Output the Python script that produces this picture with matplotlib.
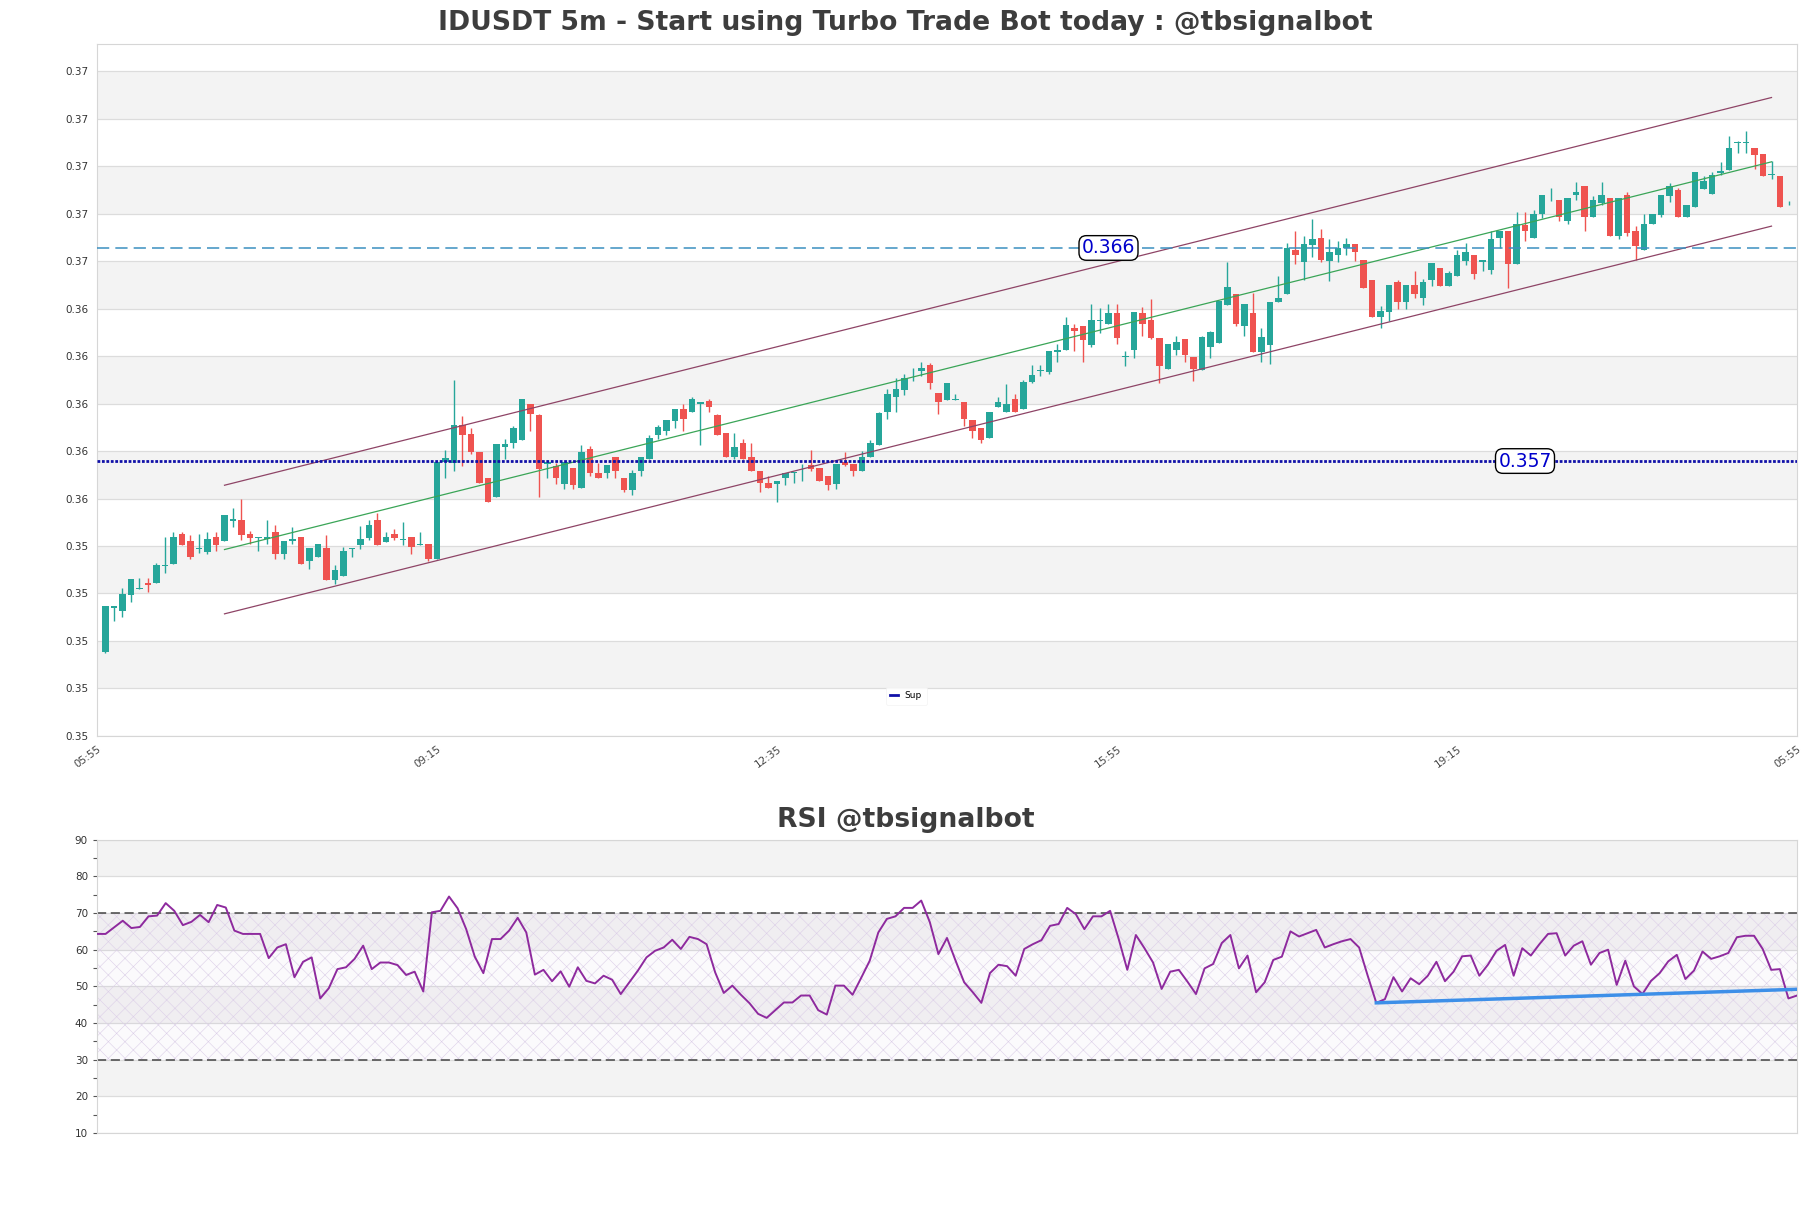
import numpy as np
import matplotlib
matplotlib.use("Agg")
import matplotlib.pyplot as plt
from matplotlib.lines import Line2D

# candle data (5m), one entry per candle
opens = [
    0.34904, 0.35087, 0.35077, 0.35143, 0.35167, 0.35196, 0.35195, 0.35265, 0.35275, 0.35400,
    0.35369, 0.35337, 0.35325, 0.35386, 0.35369, 0.35455, 0.35458, 0.35401, 0.35383, 0.35378,
    0.35407, 0.35318, 0.35369, 0.35386, 0.35287, 0.35305, 0.35340, 0.35207, 0.35224, 0.35339,
    0.35355, 0.35383, 0.35458, 0.35367, 0.35399, 0.35376, 0.35386, 0.35355, 0.35357, 0.35294,
    0.35706, 0.35701, 0.35860, 0.35821, 0.35748, 0.35638, 0.35557, 0.35767, 0.35783, 0.35797,
    0.35950, 0.35902, 0.35697, 0.35687, 0.35613, 0.35677, 0.35596, 0.35757, 0.35659, 0.35659,
    0.35726, 0.35638, 0.35586, 0.35664, 0.35715, 0.35818, 0.35835, 0.35877, 0.35929, 0.35915,
    0.35950, 0.35961, 0.35901, 0.35828, 0.35726, 0.35786, 0.35726, 0.35666, 0.35617, 0.35610,
    0.35635, 0.35659, 0.35664, 0.35690, 0.35677, 0.35645, 0.35610, 0.35706, 0.35697, 0.35666,
    0.35725, 0.35776, 0.35915, 0.35978, 0.36007, 0.36056, 0.36087, 0.36111, 0.35996, 0.35965,
    0.35965, 0.35958, 0.35880, 0.35849, 0.35804, 0.35936, 0.35915, 0.35968, 0.35926, 0.36042,
    0.36087, 0.36085, 0.36169, 0.36176, 0.36270, 0.36277, 0.36197, 0.36298, 0.36287, 0.36330,
    0.36148, 0.36176, 0.36330, 0.36301, 0.36228, 0.36094, 0.36176, 0.36221, 0.36148, 0.36090,
    0.36188, 0.36207, 0.36365, 0.36410, 0.36277, 0.36330, 0.36167, 0.36197, 0.36378, 0.36410,
    0.36599, 0.36548, 0.36618, 0.36649, 0.36553, 0.36575, 0.36607, 0.36621, 0.36557, 0.36469,
    0.36317, 0.36337, 0.36462, 0.36378, 0.36448, 0.36396, 0.36473, 0.36520, 0.36445, 0.36487,
    0.36553, 0.36578, 0.36548, 0.36515, 0.36646, 0.36679, 0.36539, 0.36701, 0.36649, 0.36750,
    0.36828, 0.36810, 0.36719, 0.36830, 0.36869, 0.36735, 0.36796, 0.36817, 0.36655, 0.36831,
    0.36679, 0.36597, 0.36705, 0.36747, 0.36827, 0.36849, 0.36735, 0.36778, 0.36856, 0.36835,
    0.36922, 0.36936, 0.37049, 0.37049, 0.37028, 0.37000, 0.36912, 0.36911, 0.36786,
]
highs = [
    0.35095, 0.35095, 0.35175, 0.35210, 0.35217, 0.35216, 0.35278, 0.35386, 0.35407, 0.35407,
    0.35397, 0.35400, 0.35407, 0.35407, 0.35479, 0.35508, 0.35547, 0.35414, 0.35386, 0.35458,
    0.35437, 0.35371, 0.35428, 0.35386, 0.35340, 0.35357, 0.35397, 0.35269, 0.35346, 0.35343,
    0.35435, 0.35458, 0.35487, 0.35407, 0.35421, 0.35449, 0.35386, 0.35407, 0.35357, 0.35706,
    0.35753, 0.36048, 0.35898, 0.35849, 0.35748, 0.35638, 0.35778, 0.35800, 0.35856, 0.35968,
    0.35950, 0.35908, 0.35711, 0.35701, 0.35706, 0.35677, 0.35776, 0.35771, 0.35698, 0.35690,
    0.35726, 0.35638, 0.35669, 0.35726, 0.35818, 0.35860, 0.35880, 0.35929, 0.35950, 0.35979,
    0.35958, 0.35968, 0.35908, 0.35828, 0.35828, 0.35800, 0.35786, 0.35666, 0.35645, 0.35624,
    0.35659, 0.35662, 0.35697, 0.35756, 0.35677, 0.35645, 0.35697, 0.35748, 0.35697, 0.35750,
    0.35796, 0.35916, 0.36010, 0.36059, 0.36073, 0.36099, 0.36127, 0.36120, 0.35996, 0.36038,
    0.35989, 0.35958, 0.35880, 0.35849, 0.35916, 0.35979, 0.36031, 0.35989, 0.36048, 0.36111,
    0.36111, 0.36171, 0.36200, 0.36316, 0.36287, 0.36277, 0.36371, 0.36351, 0.36371, 0.36371,
    0.36171, 0.36337, 0.36358, 0.36389, 0.36228, 0.36200, 0.36237, 0.36221, 0.36148, 0.36237,
    0.36258, 0.36382, 0.36548, 0.36410, 0.36368, 0.36417, 0.36270, 0.36379, 0.36487, 0.36628,
    0.36677, 0.36655, 0.36730, 0.36687, 0.36642, 0.36637, 0.36649, 0.36621, 0.36557, 0.36469,
    0.36361, 0.36448, 0.36469, 0.36448, 0.36511, 0.36476, 0.36541, 0.36520, 0.36508, 0.36599,
    0.36628, 0.36578, 0.36557, 0.36677, 0.36679, 0.36679, 0.36758, 0.36758, 0.36768, 0.36831,
    0.36859, 0.36810, 0.36817, 0.36883, 0.36869, 0.36827, 0.36883, 0.36817, 0.36817, 0.36841,
    0.36698, 0.36750, 0.36750, 0.36831, 0.36880, 0.36859, 0.36789, 0.36927, 0.36908, 0.36927,
    0.36967, 0.37079, 0.37055, 0.37098, 0.37028, 0.37000, 0.36971, 0.36911, 0.36803,
]
lows = [
    0.34897, 0.35035, 0.35049, 0.35115, 0.35167, 0.35158, 0.35195, 0.35238, 0.35275, 0.35355,
    0.35294, 0.35322, 0.35318, 0.35327, 0.35369, 0.35428, 0.35376, 0.35357, 0.35327, 0.35357,
    0.35294, 0.35294, 0.35357, 0.35275, 0.35252, 0.35305, 0.35207, 0.35189, 0.35224, 0.35304,
    0.35336, 0.35374, 0.35355, 0.35367, 0.35376, 0.35355, 0.35315, 0.35355, 0.35287, 0.35294,
    0.35635, 0.35666, 0.35687, 0.35737, 0.35617, 0.35536, 0.35557, 0.35715, 0.35765, 0.35797,
    0.35835, 0.35557, 0.35638, 0.35610, 0.35589, 0.35589, 0.35596, 0.35645, 0.35638, 0.35638,
    0.35638, 0.35579, 0.35565, 0.35645, 0.35715, 0.35800, 0.35818, 0.35849, 0.35835, 0.35915,
    0.35776, 0.35915, 0.35818, 0.35726, 0.35715, 0.35715, 0.35666, 0.35579, 0.35593, 0.35537,
    0.35607, 0.35614, 0.35624, 0.35666, 0.35624, 0.35585, 0.35589, 0.35685, 0.35645, 0.35666,
    0.35725, 0.35776, 0.35887, 0.35916, 0.35986, 0.36045, 0.36066, 0.36010, 0.35905, 0.35965,
    0.35965, 0.35856, 0.35807, 0.35786, 0.35804, 0.35936, 0.35915, 0.35915, 0.35926, 0.36035,
    0.36066, 0.36073, 0.36127, 0.36176, 0.36171, 0.36127, 0.36188, 0.36249, 0.36287, 0.36200,
    0.36108, 0.36141, 0.36237, 0.36221, 0.36038, 0.36094, 0.36155, 0.36127, 0.36045, 0.36090,
    0.36141, 0.36207, 0.36365, 0.36277, 0.36234, 0.36167, 0.36127, 0.36118, 0.36378, 0.36410,
    0.36539, 0.36469, 0.36567, 0.36548, 0.36466, 0.36548, 0.36575, 0.36553, 0.36438, 0.36317,
    0.36270, 0.36298, 0.36347, 0.36347, 0.36393, 0.36365, 0.36445, 0.36445, 0.36445, 0.36487,
    0.36536, 0.36476, 0.36508, 0.36497, 0.36607, 0.36438, 0.36539, 0.36637, 0.36649, 0.36733,
    0.36806, 0.36719, 0.36708, 0.36810, 0.36677, 0.36735, 0.36789, 0.36655, 0.36642, 0.36655,
    0.36557, 0.36597, 0.36705, 0.36737, 0.36799, 0.36735, 0.36735, 0.36778, 0.36856, 0.36835,
    0.36915, 0.36936, 0.37007, 0.37007, 0.36939, 0.36908, 0.36897, 0.36778, 0.36786,
]
closes = [
    0.35095, 0.35095, 0.35146, 0.35210, 0.35175, 0.35186, 0.35269, 0.35269, 0.35386, 0.35355,
    0.35303, 0.35340, 0.35378, 0.35355, 0.35479, 0.35465, 0.35397, 0.35384, 0.35386, 0.35386,
    0.35318, 0.35371, 0.35378, 0.35275, 0.35340, 0.35357, 0.35207, 0.35248, 0.35329, 0.35343,
    0.35378, 0.35437, 0.35355, 0.35386, 0.35383, 0.35378, 0.35346, 0.35357, 0.35294, 0.35706,
    0.35720, 0.35859, 0.35818, 0.35744, 0.35617, 0.35536, 0.35778, 0.35778, 0.35849, 0.35968,
    0.35908, 0.35673, 0.35706, 0.35638, 0.35706, 0.35607, 0.35748, 0.35659, 0.35638, 0.35690,
    0.35666, 0.35586, 0.35659, 0.35726, 0.35807, 0.35851, 0.35880, 0.35929, 0.35884, 0.35968,
    0.35958, 0.35936, 0.35818, 0.35726, 0.35769, 0.35715, 0.35666, 0.35614, 0.35593, 0.35624,
    0.35659, 0.35662, 0.35666, 0.35673, 0.35624, 0.35607, 0.35697, 0.35691, 0.35666, 0.35726,
    0.35786, 0.35909, 0.35989, 0.36010, 0.36059, 0.36059, 0.36099, 0.36035, 0.35957, 0.36038,
    0.35968, 0.35884, 0.35835, 0.35796, 0.35916, 0.35958, 0.35950, 0.35915, 0.36041, 0.36069,
    0.36091, 0.36171, 0.36178, 0.36281, 0.36255, 0.36216, 0.36301, 0.36301, 0.36330, 0.36228,
    0.36150, 0.36337, 0.36287, 0.36228, 0.36108, 0.36200, 0.36209, 0.36155, 0.36094, 0.36230,
    0.36251, 0.36382, 0.36441, 0.36284, 0.36368, 0.36167, 0.36230, 0.36379, 0.36396, 0.36607,
    0.36575, 0.36621, 0.36642, 0.36554, 0.36590, 0.36607, 0.36621, 0.36590, 0.36438, 0.36317,
    0.36340, 0.36448, 0.36378, 0.36448, 0.36414, 0.36462, 0.36541, 0.36445, 0.36499, 0.36578,
    0.36590, 0.36497, 0.36557, 0.36642, 0.36679, 0.36539, 0.36708, 0.36679, 0.36750, 0.36831,
    0.36831, 0.36735, 0.36817, 0.36841, 0.36735, 0.36810, 0.36831, 0.36655, 0.36817, 0.36667,
    0.36616, 0.36709, 0.36750, 0.36831, 0.36869, 0.36735, 0.36789, 0.36927, 0.36890, 0.36912,
    0.36929, 0.37028, 0.37051, 0.37051, 0.36997, 0.36908, 0.36919, 0.36778, 0.36789,
]

rsi = [
    64.3, 64.3, 66.1, 67.9, 65.9, 66.2, 69.1, 69.3, 72.7, 70.6,
    66.7, 67.6, 69.5, 67.5, 72.2, 71.5, 65.2, 64.3, 64.3, 64.3,
    57.7, 60.6, 61.5, 52.5, 56.7, 57.9, 46.7, 49.5, 54.7, 55.2,
    57.5, 61.1, 54.7, 56.5, 56.5, 55.8, 53.1, 54.0, 48.6, 70.2,
    70.6, 74.5, 71.3, 65.6, 58.1, 53.6, 62.9, 62.9, 65.2, 68.7,
    64.7, 53.2, 54.5, 51.4, 54.1, 49.9, 55.2, 51.5, 50.8, 52.9,
    51.8, 47.9, 51.1, 54.3, 57.9, 59.7, 60.6, 62.7, 60.2, 63.5,
    62.9, 61.5, 53.8, 48.2, 50.2, 47.7, 45.4, 42.5, 41.4, 43.5,
    45.6, 45.6, 47.5, 47.5, 43.5, 42.3, 50.2, 50.2, 47.7, 52.3,
    57.0, 64.7, 68.4, 69.1, 71.4, 71.4, 73.4, 67.5, 58.8, 63.2,
    57.0, 51.1, 48.4, 45.5, 53.6, 55.9, 55.5, 52.9, 60.2, 61.5,
    62.6, 66.5, 67.0, 71.4, 69.7, 65.6, 69.1, 69.1, 70.6, 62.9,
    54.5, 64.0, 60.4, 56.5, 49.3, 54.0, 54.5, 51.3, 47.9, 54.9,
    56.1, 61.8, 64.0, 54.9, 58.4, 48.4, 51.1, 57.2, 58.1, 65.0,
    63.6, 64.5, 65.4, 60.6, 61.5, 62.3, 62.9, 60.6, 52.9, 45.5,
    46.5, 52.5, 48.6, 52.2, 50.6, 52.9, 56.7, 51.4, 54.0, 58.2,
    58.4, 52.9, 55.9, 59.7, 61.3, 52.9, 60.4, 58.4, 61.5, 64.3,
    64.5, 58.4, 61.1, 62.3, 55.9, 59.1, 60.0, 50.4, 57.0, 50.0,
    47.9, 51.5, 53.6, 56.8, 58.6, 52.0, 54.3, 59.5, 57.5, 58.2,
    59.1, 63.4, 63.8, 63.8, 60.2, 54.5, 54.7, 46.7, 47.5,
]

time_labels = ["05:55", "09:15", "12:35", "15:55", "19:15", "05:55"]
time_ticks = [-1, 39, 79, 119, 159, 199]

# levels and channel
resistance = 0.36606
support = 0.35708
channel_idx = [14, 196]
channel_mid = [0.35335, 0.36969]
channel_half = 0.00271

# rsi trend line
rsi_trend_idx = [149, 198]
rsi_trend_val = [45.5, 49.2]

price_ticks = [0.3455 + 0.002 * k for k in range(15)]
rsi_ticks = [10, 20, 30, 40, 50, 60, 70, 80, 90]

GREEN = "#26a69a"
RED = "#ef5350"
BAND = "#f3f3f3"
GRID = "#dcdcdc"
SUP_BLUE = "#1010a8"

plt.rcParams["hatch.linewidth"] = 0.4
plt.rcParams["hatch.color"] = "#dccfe8"

fig = plt.figure(figsize=(18.11, 12.08), dpi=100)
ax = fig.add_axes([0.05356, 0.39089, 0.93871, 0.57277])
ax2 = fig.add_axes([0.05356, 0.06209, 0.93871, 0.24279])

# ---- price panel ----
o = np.array(opens)
h = np.array(highs)
l = np.array(lows)
c = np.array(closes)
x = np.arange(len(c))
cols = np.where(c >= o, GREEN, RED)

for j in range(1, 14, 2):
    ax.axhspan(price_ticks[j], price_ticks[j + 1], color=BAND, lw=0, zorder=0)
for t in price_ticks:
    ax.axhline(t, color=GRID, lw=0.9, zorder=0.5)

ax.vlines(x, l, h, colors=cols, lw=1.0, zorder=2)
body_low = np.minimum(o, c)
body_h = np.maximum(np.abs(c - o), 0.00003)
ax.bar(x, body_h, bottom=body_low, width=0.75, color=cols, lw=0, zorder=3)

mid = np.array(channel_mid)
ax.plot(channel_idx, mid, color="#3aa557", lw=0.9, zorder=4)
ax.plot(channel_idx, mid + channel_half, color="#8e4466", lw=0.9, zorder=4)
ax.plot(channel_idx, mid - channel_half, color="#8e4466", lw=0.9, zorder=4)

ax.axhline(resistance, color="#3a8fc0", lw=1.1, ls=(0, (8, 4)), zorder=4)
ax.axhline(support, color=SUP_BLUE, lw=2.0, ls=(0, (1, 0.6)), zorder=4)

box = dict(boxstyle="round,pad=0.15,rounding_size=0.4", fc="white", ec="black", lw=1)
ax.text(118, resistance, f"{resistance:.3f}", color="#0000cc", fontsize=13.5,
        ha="center", va="center", bbox=box, zorder=6)
ax.text(167, support, f"{support:.3f}", color="#0000cc", fontsize=13.5,
        ha="center", va="center", bbox=box, zorder=6)

ax.set_xlim(-1, 199)
ax.set_ylim(0.3455, 0.37466)
ax.set_yticks(price_ticks)
ax.set_yticklabels([f"{t + 1e-9:.2f}" for t in price_ticks], fontsize=7.5, color="#333333")
ax.set_xticks(time_ticks)
ax.set_xticklabels(time_labels, fontsize=7.5, color="#444444", rotation=36,
                   ha="right", rotation_mode="anchor")
ax.tick_params(axis="both", length=0, pad=6)
for s in ax.spines.values():
    s.set_color("#d6d6d6")

sup_handle = Line2D([], [], color=SUP_BLUE, lw=2)
leg = ax.legend([sup_handle], ["Sup"], loc="center", bbox_to_anchor=(0.476, 0.058),
                fontsize=6.5, handlelength=0.8, frameon=True, fancybox=True, borderpad=0.5)
leg.get_frame().set_edgecolor("#f0f0f0")
leg.get_frame().set_linewidth(0.5)

# ---- rsi panel ----
for lo in [20, 40, 60, 80]:
    ax2.axhspan(lo, lo + 10, color=BAND, lw=0, zorder=0)
for t in rsi_ticks:
    ax2.axhline(t, color=GRID, lw=0.9, zorder=0.5)
ax2.axhspan(30, 70, facecolor=(0.6, 0.4, 0.75, 0.03), edgecolor="#dccfe8",
            hatch="xx", lw=0, zorder=1)
ax2.axhline(70, color="#444444", lw=1.1, ls=(0, (6, 3)), zorder=2)
ax2.axhline(30, color="#444444", lw=1.1, ls=(0, (6, 3)), zorder=2)

ax2.plot(np.arange(len(rsi)), rsi, color="#8e2a9e", lw=1.4, zorder=3)
ax2.plot(rsi_trend_idx, rsi_trend_val, color="#3d8fe8", lw=2.5, zorder=4)

ax2.set_xlim(0, 198)
ax2.set_ylim(10, 90)
ax2.set_yticks(rsi_ticks)
ax2.set_yticks([15, 25, 35, 45, 55, 65, 75, 85], minor=True)
ax2.set_yticklabels([str(t) for t in rsi_ticks], fontsize=7.5, color="#333333")
ax2.set_xticks([])
ax2.tick_params(axis="y", which="both", length=3, color="#555555", width=0.8)
for s in ax2.spines.values():
    s.set_color("#d6d6d6")

fig.text(0.5, 0.981, "IDUSDT 5m - Start using Turbo Trade Bot today : @tbsignalbot",
         ha="center", va="center", fontsize=19.2, fontweight="bold", color="#3d3d3d")
fig.text(0.5, 0.3212, "RSI @tbsignalbot", ha="center", va="center",
         fontsize=19.2, fontweight="bold", color="#3d3d3d")

fig.savefig("out.png", dpi=100)
